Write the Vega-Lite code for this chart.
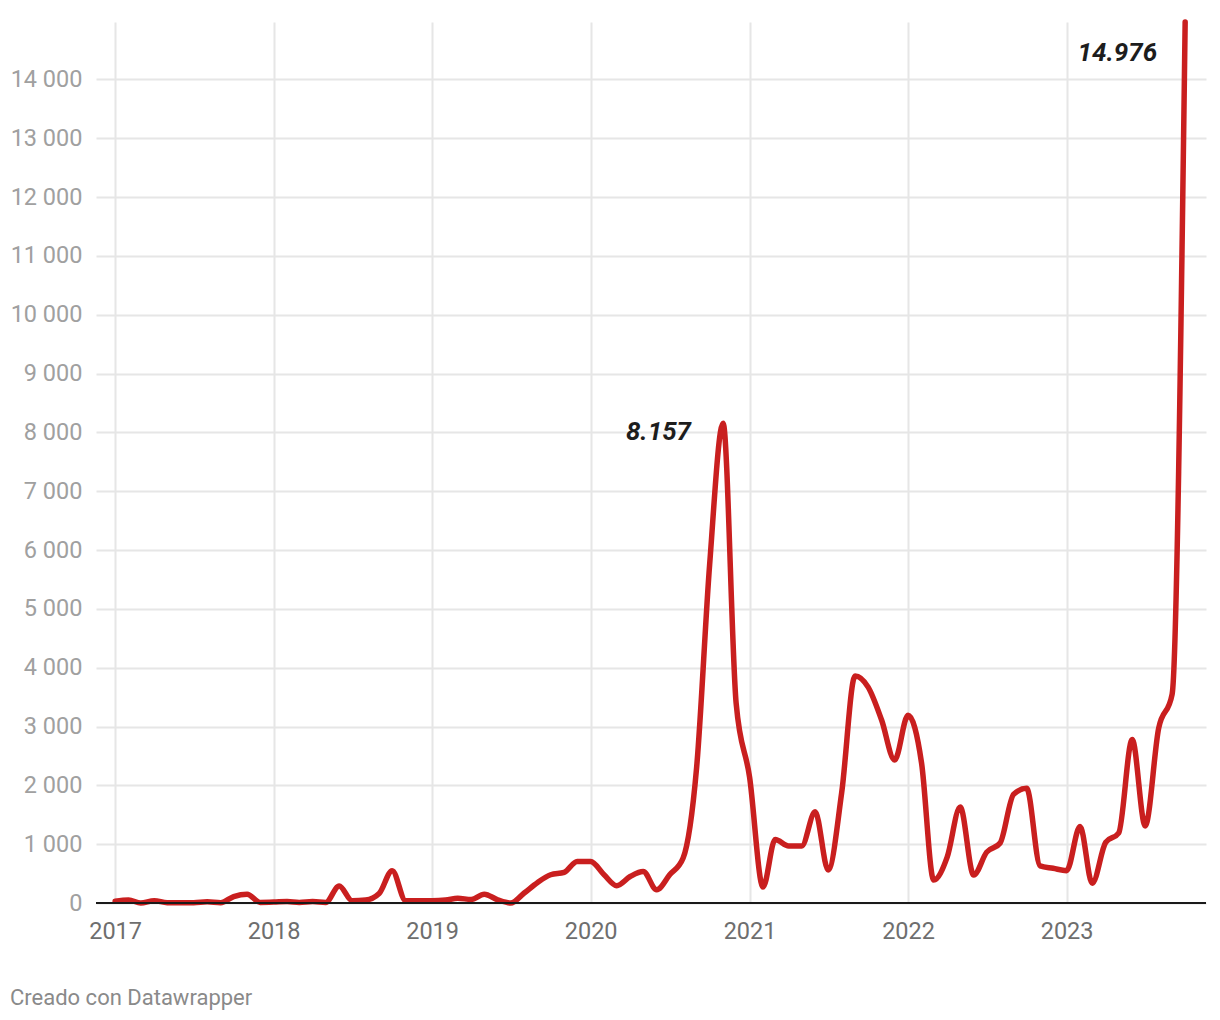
{
  "$schema": "https://vega.github.io/schema/vega-lite/v6.json",
  "width": 1110,
  "height": 881,
  "autosize": {"type": "none"},
  "padding": {"left": 96, "top": 22, "right": 14, "bottom": 117},
  "background": "#ffffff",
  "config": {
    "view": {"stroke": null},
    "font": "Roboto",
    "axis": {"labelFont": "Roboto", "gridColor": "#e6e6e6", "gridWidth": 2, "ticks": false, "domain": false, "title": null}
  },
  "title": {
    "text": "Creado con Datawrapper",
    "orient": "bottom",
    "anchor": "start",
    "frame": "group",
    "dx": -86,
    "offset": 45,
    "font": "Roboto",
    "fontSize": 22,
    "fontWeight": "normal",
    "color": "#8a8a8a"
  },
  "datasets": {
    "series": [
      {"date": "2017-01-01", "value": 30},
      {"date": "2017-02-01", "value": 50},
      {"date": "2017-03-01", "value": 0},
      {"date": "2017-04-01", "value": 40},
      {"date": "2017-05-01", "value": 5},
      {"date": "2017-06-01", "value": 5},
      {"date": "2017-07-01", "value": 5},
      {"date": "2017-08-01", "value": 20},
      {"date": "2017-09-01", "value": 5},
      {"date": "2017-10-01", "value": 110},
      {"date": "2017-11-01", "value": 150},
      {"date": "2017-12-01", "value": 10},
      {"date": "2018-01-01", "value": 15},
      {"date": "2018-02-01", "value": 25},
      {"date": "2018-03-01", "value": 10},
      {"date": "2018-04-01", "value": 25},
      {"date": "2018-05-01", "value": 10},
      {"date": "2018-06-01", "value": 290},
      {"date": "2018-07-01", "value": 40},
      {"date": "2018-08-01", "value": 50},
      {"date": "2018-09-01", "value": 160},
      {"date": "2018-10-01", "value": 550},
      {"date": "2018-11-01", "value": 40},
      {"date": "2018-12-01", "value": 40},
      {"date": "2019-01-01", "value": 40},
      {"date": "2019-02-01", "value": 50},
      {"date": "2019-03-01", "value": 80},
      {"date": "2019-04-01", "value": 60},
      {"date": "2019-05-01", "value": 150},
      {"date": "2019-06-01", "value": 55},
      {"date": "2019-07-01", "value": 0},
      {"date": "2019-08-01", "value": 170},
      {"date": "2019-09-01", "value": 350},
      {"date": "2019-10-01", "value": 480},
      {"date": "2019-11-01", "value": 520},
      {"date": "2019-12-01", "value": 705},
      {"date": "2020-01-01", "value": 705},
      {"date": "2020-02-01", "value": 480},
      {"date": "2020-03-01", "value": 295},
      {"date": "2020-04-01", "value": 450},
      {"date": "2020-05-01", "value": 535},
      {"date": "2020-06-01", "value": 225},
      {"date": "2020-07-01", "value": 480},
      {"date": "2020-08-01", "value": 765},
      {"date": "2020-09-01", "value": 2300},
      {"date": "2020-10-01", "value": 5750},
      {"date": "2020-11-01", "value": 8157},
      {"date": "2020-12-01", "value": 3400},
      {"date": "2021-01-01", "value": 2140},
      {"date": "2021-02-01", "value": 270},
      {"date": "2021-03-01", "value": 1080},
      {"date": "2021-04-01", "value": 970},
      {"date": "2021-05-01", "value": 970},
      {"date": "2021-06-01", "value": 1550},
      {"date": "2021-07-01", "value": 560},
      {"date": "2021-08-01", "value": 1870},
      {"date": "2021-09-01", "value": 3860},
      {"date": "2021-10-01", "value": 3670},
      {"date": "2021-11-01", "value": 3110},
      {"date": "2021-12-01", "value": 2430},
      {"date": "2022-01-01", "value": 3190},
      {"date": "2022-02-01", "value": 2380},
      {"date": "2022-03-01", "value": 390},
      {"date": "2022-04-01", "value": 780},
      {"date": "2022-05-01", "value": 1630},
      {"date": "2022-06-01", "value": 475},
      {"date": "2022-07-01", "value": 865},
      {"date": "2022-08-01", "value": 1020},
      {"date": "2022-09-01", "value": 1850},
      {"date": "2022-10-01", "value": 1950},
      {"date": "2022-11-01", "value": 630},
      {"date": "2022-12-01", "value": 590},
      {"date": "2023-01-01", "value": 550},
      {"date": "2023-02-01", "value": 1300},
      {"date": "2023-03-01", "value": 335},
      {"date": "2023-04-01", "value": 1030},
      {"date": "2023-05-01", "value": 1190},
      {"date": "2023-06-01", "value": 2780},
      {"date": "2023-07-01", "value": 1310},
      {"date": "2023-08-01", "value": 2970},
      {"date": "2023-09-01", "value": 3550},
      {"date": "2023-10-01", "value": 14976}
    ],
    "notes": [
      {"date": "2020-11-01", "value": 8157, "label": "8.157"},
      {"date": "2023-10-01", "value": 14976, "label": "14.976"}
    ]
  },
  "encoding": {
    "x": {
      "field": "date",
      "type": "temporal",
      "scale": {"type": "utc", "domain": ["2016-11-18", "2023-11-18"]},
      "axis": {
        "format": "%Y",
        "tickCount": "year",
        "labelFontSize": 23.5,
        "labelColor": "#6e6e6e",
        "labelPadding": 16,
        "grid": true
      }
    },
    "y": {
      "field": "value",
      "type": "quantitative",
      "scale": {"domain": [0, 14976], "nice": false, "zero": true},
      "axis": {
        "values": [0, 1000, 2000, 3000, 4000, 5000, 6000, 7000, 8000, 9000, 10000, 11000, 12000, 13000, 14000],
        "labelExpr": "replace(format(datum.value, ','), ',', ' ')",
        "labelFontSize": 23.5,
        "labelColor": "#a0a0a0",
        "labelPadding": 14,
        "grid": true
      }
    }
  },
  "layer": [
    {
      "data": {"name": "series"},
      "mark": {"type": "line", "interpolate": "monotone", "color": "#c91f1f", "strokeWidth": 5.5, "strokeCap": "round", "strokeJoin": "round"}
    },
    {
      "data": {"name": "series"},
      "mark": {"type": "rule", "color": "#1a1a1a", "strokeWidth": 2},
      "encoding": {"y": {"datum": 0}, "x": null}
    },
    {
      "data": {"name": "notes"},
      "transform": [{"filter": "datum.label == '8.157'"}],
      "mark": {"type": "text", "align": "right", "baseline": "middle", "dx": -32, "dy": 9, "font": "Roboto", "fontSize": 26, "fontWeight": "bold", "fontStyle": "italic", "color": "#1d1d1d"},
      "encoding": {"text": {"field": "label"}}
    },
    {
      "data": {"name": "notes"},
      "transform": [{"filter": "datum.label == '14.976'"}],
      "mark": {"type": "text", "align": "right", "baseline": "middle", "dx": -28, "dy": 31, "font": "Roboto", "fontSize": 26, "fontWeight": "bold", "fontStyle": "italic", "color": "#1d1d1d"},
      "encoding": {"text": {"field": "label"}}
    }
  ]
}
